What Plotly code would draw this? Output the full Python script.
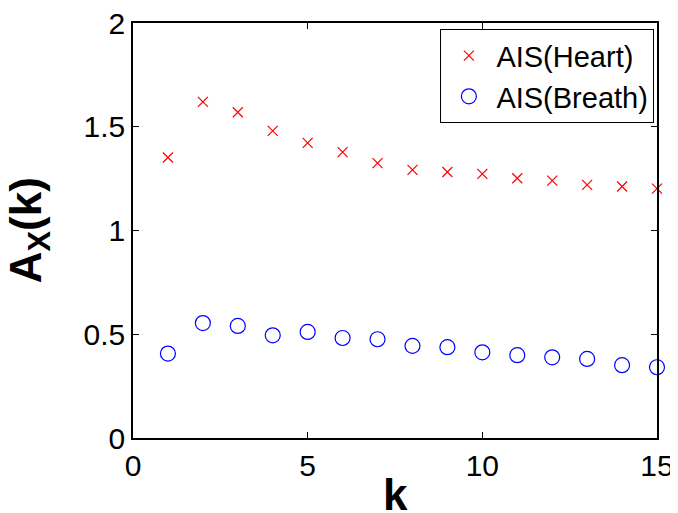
import plotly.graph_objects as go

k = list(range(1, 16))
heart = [1.352, 1.62, 1.57, 1.48, 1.422, 1.378, 1.325, 1.292, 1.282, 1.273, 1.252, 1.240, 1.220, 1.212, 1.202]
breath = [0.407, 0.554, 0.540, 0.495, 0.511, 0.482, 0.476, 0.444, 0.4375, 0.413, 0.399, 0.389, 0.381, 0.351, 0.341]
x_ticks = [0, 5, 10, 15]
y_ticks = [0, 0.5, 1, 1.5, 2]
y_tick_text = ["0", "0.5", "1", "1.5", "2"]
x_title = "<b>k</b>"
y_title = "<b>A<sub>X</sub>(k)</b>"

fig = go.Figure()
fig.add_trace(go.Scatter(
    x=k, y=heart, mode="markers", name="AIS(Heart)", cliponaxis=False,
    marker=dict(symbol="x-thin-open", size=10, color="red", line=dict(color="red", width=1.2)),
))
fig.add_trace(go.Scatter(
    x=k, y=breath, mode="markers", name="AIS(Breath)", cliponaxis=False,
    marker=dict(symbol="circle-open", size=15, color="blue", line=dict(color="blue", width=1.2)),
))

axis_common = dict(
    showline=True, linecolor="black", linewidth=1.5, mirror="ticks",
    ticks="inside", ticklen=6, tickcolor="black", tickwidth=1,
    showgrid=False, zeroline=False, automargin=False, ticklabeloverflow="allow",
    tickfont=dict(family="Liberation Sans", size=30, color="black"),
)
fig.update_xaxes(range=[0, 15], tickvals=x_ticks, ticktext=[str(v) for v in x_ticks], **axis_common)
fig.update_yaxes(range=[0, 2], tickvals=y_ticks, ticktext=y_tick_text, **axis_common)

title_font = dict(family="Liberation Sans", size=44, color="black")
fig.add_annotation(text=x_title, xref="paper", yref="paper", x=0.50, y=-0.136,
                   xanchor="center", yanchor="middle", showarrow=False, font=title_font)
fig.add_annotation(text=y_title, xref="paper", yref="paper", x=-0.199, y=0.5,
                   xanchor="center", yanchor="middle", showarrow=False, font=title_font,
                   textangle=-90)

fig.update_layout(
    width=670, height=505,
    margin=dict(l=125, r=21, t=15, b=75),
    paper_bgcolor="white", plot_bgcolor="white",
    legend=dict(
        x=0.995, y=0.985, xanchor="right", yanchor="top",
        bordercolor="black", borderwidth=1, bgcolor="white",
        font=dict(family="Liberation Sans", size=29, color="black"),
        itemwidth=45, tracegroupgap=0,
    ),
)
fig.write_html("out.html")
